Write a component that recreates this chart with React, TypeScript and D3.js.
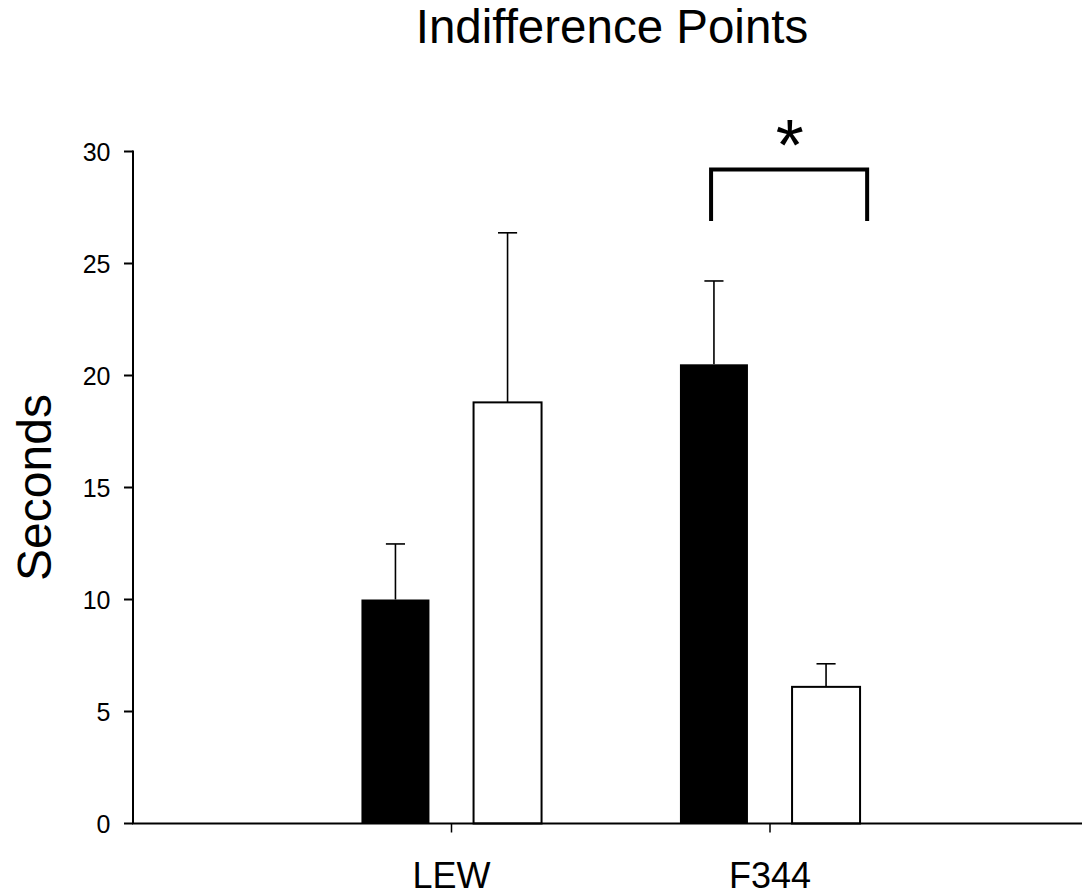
import * as d3 from 'd3';

const strains = ['LEW', 'F344'];
const filledMeans = [10.0, 20.5];
const filledErrors = [2.48, 3.72];
const openMeans = [18.8, 6.1];
const openErrors = [7.57, 1.03];
const yTicks = [0, 5, 10, 15, 20, 25, 30];

const W = 1082;
const H = 896;
const FONT = 'Arial, "Liberation Sans", Helvetica, sans-serif';

export default function App() {
  const x = d3.scaleLinear().domain([0, 3]).range([133, 1088.5]);
  const y = d3.scaleLinear().domain([0, 30]).range([823.5, 151.5]);

  const barW = x(0.2135) - x(0);
  const offset = x(0.176) - x(0);
  const capW = x(0.06) - x(0);

  const bars = strains.flatMap((s, i) => [
    { key: s + '-filled', cx: x(i + 1) - offset, mean: filledMeans[i], err: filledErrors[i], fill: '#000' },
    { key: s + '-open', cx: x(i + 1) + offset, mean: openMeans[i], err: openErrors[i], fill: '#fff' },
  ]);

  // significance bracket over F344
  const bx0 = x(2 - 0.185);
  const bx1 = x(2 + 0.305);
  const bTop = y(29.2);
  const bBot = y(26.9);

  return (
    <svg width={W} height={H} style={{ position: 'fixed', left: 0, top: 0, background: '#fff' }} fontFamily={FONT}>
      <rect width={W} height={H} fill="#fff" />
      <text x={612} y={42.5} textAnchor="middle" fontSize={47.5}>Indifference Points</text>

      {bars.map((b) => (
        <g key={b.key}>
          <line x1={b.cx} x2={b.cx} y1={y(b.mean)} y2={y(b.mean + b.err)} stroke="#000" strokeWidth={1.6} />
          <line x1={b.cx - capW / 2} x2={b.cx + capW / 2} y1={y(b.mean + b.err)} y2={y(b.mean + b.err)} stroke="#000" strokeWidth={1.6} />
          <rect
            x={b.cx - barW / 2}
            y={y(b.mean)}
            width={barW}
            height={y(0) - y(b.mean)}
            fill={b.fill}
            stroke="#000"
            strokeWidth={b.fill === '#000' ? 0 : 2}
          />
        </g>
      ))}

      {/* y axis */}
      <line x1={x(0)} x2={x(0)} y1={y(30) - 1} y2={y(0)} stroke="#000" strokeWidth={2} />
      {yTicks.map((t) => (
        <g key={t}>
          <line x1={x(0) - 9} x2={x(0)} y1={y(t)} y2={y(t)} stroke="#000" strokeWidth={2} />
          <text x={110.5} y={y(t)} dy="0.36em" textAnchor="end" fontSize={25}>{t}</text>
        </g>
      ))}
      <text transform={`translate(51, ${y(15)}) rotate(-90)`} textAnchor="middle" fontSize={48}>Seconds</text>

      {/* x axis */}
      <line x1={x(0) - 1} x2={W} y1={y(0)} y2={y(0)} stroke="#000" strokeWidth={2} />
      {strains.map((s, i) => (
        <g key={s}>
          <line x1={x(i + 1)} x2={x(i + 1)} y1={y(0)} y2={y(0) + 9} stroke="#000" strokeWidth={1.5} />
          <text x={x(i + 1)} y={888} textAnchor="middle" fontSize={36}>{s}</text>
        </g>
      ))}

      <path
        d={`M${bx0},${bBot} L${bx0},${bTop} L${bx1},${bTop} L${bx1},${bBot}`}
        fill="none"
        stroke="#000"
        strokeWidth={4}
      />
      <text x={x(2 + 0.062)} y={y(31.15)} dy="0.62em" textAnchor="middle" fontSize={72}>*</text>
    </svg>
  );
}
